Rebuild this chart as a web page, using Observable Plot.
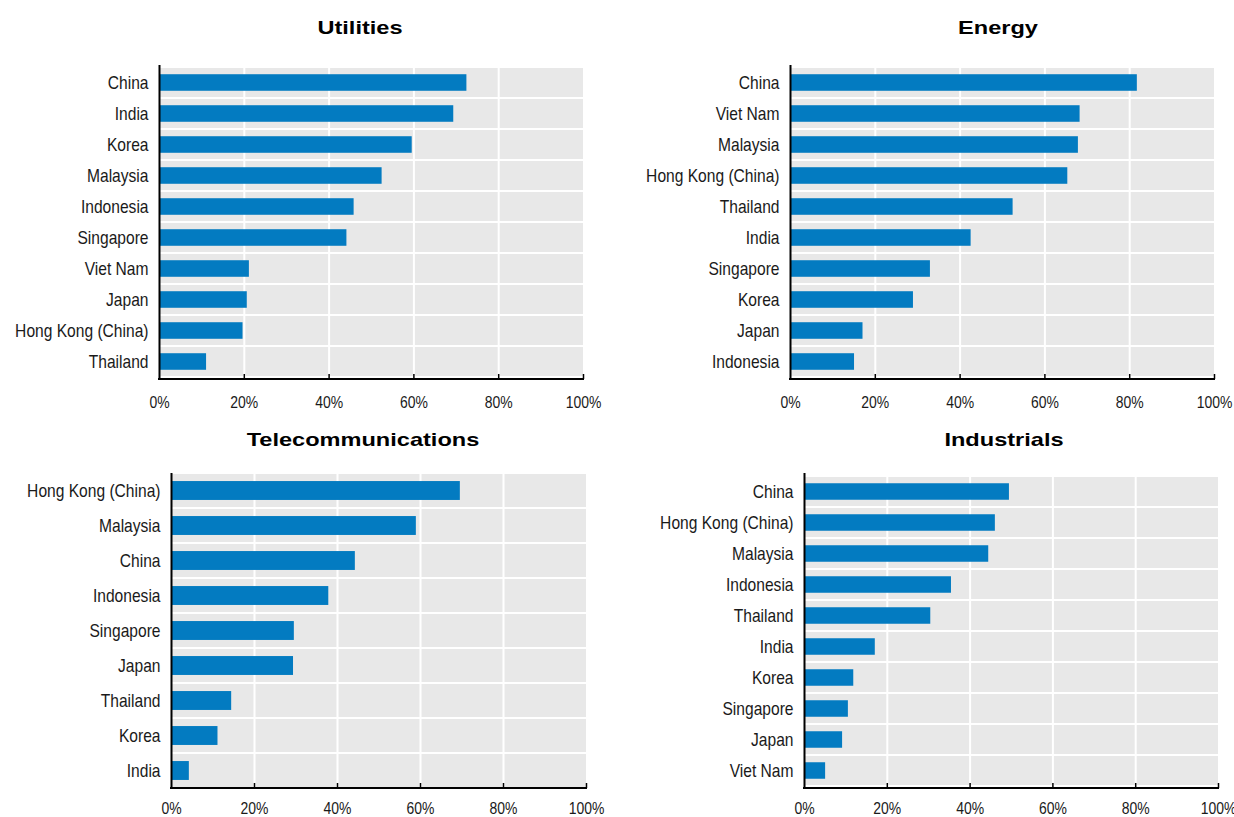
<!DOCTYPE html>
<html>
<head>
<meta charset="utf-8">
<script src="https://cdn.jsdelivr.net/npm/d3@7"></script>
<script src="https://cdn.jsdelivr.net/npm/@observablehq/plot@0.6"></script>
<style>
  html, body { margin: 0; padding: 0; background: #fff; }
  #root { position: relative; width: 1234px; height: 817px; overflow: hidden; }
  .panel { position: absolute; }
  .title {
    position: absolute;
    font-family: "Liberation Sans", Arial, sans-serif;
    font-weight: bold;
    font-size: 19px;
    line-height: 19px;
    color: #000;
    white-space: nowrap;
    transform: translateX(-50%) scaleX(1.24);
  }
</style>
</head>
<body>
<div id="root"></div>
<script>
// ---- Data ----
const xTicks = [0, 20, 40, 60, 80, 100];
const gridTicks = [20, 40, 60, 80];

const utilitiesCountries = ["China", "India", "Korea", "Malaysia", "Indonesia", "Singapore", "Viet Nam", "Japan", "Hong Kong (China)", "Thailand"];
const utilitiesValues = [72.5, 69.4, 59.6, 52.5, 45.9, 44.2, 21.2, 20.7, 19.7, 11.1];

const energyCountries = ["China", "Viet Nam", "Malaysia", "Hong Kong (China)", "Thailand", "India", "Singapore", "Korea", "Japan", "Indonesia"];
const energyValues = [81.8, 68.3, 67.9, 65.4, 52.5, 42.6, 33.0, 29.0, 17.1, 15.1];

const telecomCountries = ["Hong Kong (China)", "Malaysia", "China", "Indonesia", "Singapore", "Japan", "Thailand", "Korea", "India"];
const telecomValues = [69.6, 59.0, 44.3, 37.9, 29.6, 29.4, 14.5, 11.2, 4.3];

const industrialsCountries = ["China", "Hong Kong (China)", "Malaysia", "Indonesia", "Thailand", "India", "Korea", "Singapore", "Japan", "Viet Nam"];
const industrialsValues = [49.5, 46.1, 44.5, 35.5, 30.5, 17.1, 11.9, 10.6, 9.2, 5.1];

// ---- Styles ----
const BAR = "#037bc1";
const BG = "#e8e8e8";
const FONT = '"Liberation Sans", Arial, sans-serif';
const CONDENSE = 0.82; // emulate Arial Narrow widths

const root = document.getElementById("root");

function panel(cfg) {
  const data = cfg.countries.map((c, i) => ({country: c, value: cfg.values[i]}));
  const plotH = cfg.height - cfg.mt - cfg.mb;
  const step = plotH / cfg.countries.length;
  const barInset = step * 0.23;

  const bottomLine = (index, scales, values, dims) => {
    const y = dims.height - dims.marginBottom;
    return d3.create("svg:line")
      .attr("x1", dims.marginLeft - 1)
      .attr("x2", dims.width - dims.marginRight + 1)
      .attr("y1", y).attr("y2", y)
      .attr("stroke", "#000")
      .attr("stroke-width", 2)
      .node();
  };

  const chart = Plot.plot({
    width: cfg.width,
    height: cfg.height,
    marginLeft: cfg.ml,
    marginRight: cfg.mr,
    marginTop: cfg.mt,
    marginBottom: cfg.mb,
    style: {fontFamily: FONT, color: "#1a1a1a", background: "transparent", overflow: "visible"},
    x: {domain: [0, 100], label: null},
    y: {domain: cfg.countries, padding: 0, label: null},
    marks: [
      Plot.barX(data, {y: "country", x1: 0, x2: 100, fill: BG, insetTop: 1, insetBottom: 1}),
      Plot.ruleX(gridTicks, {stroke: "#fff", strokeWidth: 2}),
      Plot.barX(data, {y: "country", x: "value", fill: BAR, insetTop: barInset, insetBottom: barInset}),
      Plot.ruleX([0], {stroke: "#000", strokeWidth: 2}),
      bottomLine,
      Plot.ruleX(xTicks.slice(1), {stroke: "#000", strokeWidth: 1.5, insetTop: plotH - 5}),
      Plot.axisX({ticks: xTicks, tickSize: 0, tickPadding: cfg.xpad, tickFormat: d => `${d}%`, fontSize: 17, fill: "#1a1a1a", label: null}),
      Plot.axisY({tickSize: 0, tickPadding: 11, fontSize: 19, fill: "#1a1a1a", label: null})
    ]
  });

  const wrap = document.createElement("div");
  wrap.className = "panel";
  wrap.style.left = cfg.left + "px";
  wrap.style.top = cfg.top + "px";
  wrap.appendChild(chart);
  root.appendChild(wrap);

  // condense the tick label glyphs horizontally (narrow face)
  chart.querySelectorAll("text").forEach(t => {
    const w = t.getComputedTextLength();
    if (w > 0) {
      t.setAttribute("textLength", (w * CONDENSE).toFixed(2));
      t.setAttribute("lengthAdjust", "spacingAndGlyphs");
    }
  });

  const t = document.createElement("div");
  t.className = "title";
  t.textContent = cfg.title;
  t.style.left = cfg.titleX + "px";
  t.style.top = cfg.titleY + "px";
  root.appendChild(t);
}

panel({title: "Utilities", countries: utilitiesCountries, values: utilitiesValues,
  left: 0, top: 40, width: 617, height: 379, ml: 159, mr: 34, mt: 25, mb: 40, xpad: 16, titleX: 360, titleY: 18});
panel({title: "Energy", countries: energyCountries, values: energyValues,
  left: 617, top: 40, width: 617, height: 379, ml: 173, mr: 20, mt: 25, mb: 40, xpad: 16, titleX: 998, titleY: 18});
panel({title: "Telecommunications", countries: telecomCountries, values: telecomValues,
  left: 0, top: 440, width: 617, height: 377, ml: 171, mr: 31, mt: 33, mb: 29, xpad: 13, titleX: 363, titleY: 430});
panel({title: "Industrials", countries: industrialsCountries, values: industrialsValues,
  left: 617, top: 440, width: 617, height: 377, ml: 187, mr: 16, mt: 33, mb: 29, xpad: 13, titleX: 1004, titleY: 430});
</script>
</body>
</html>
